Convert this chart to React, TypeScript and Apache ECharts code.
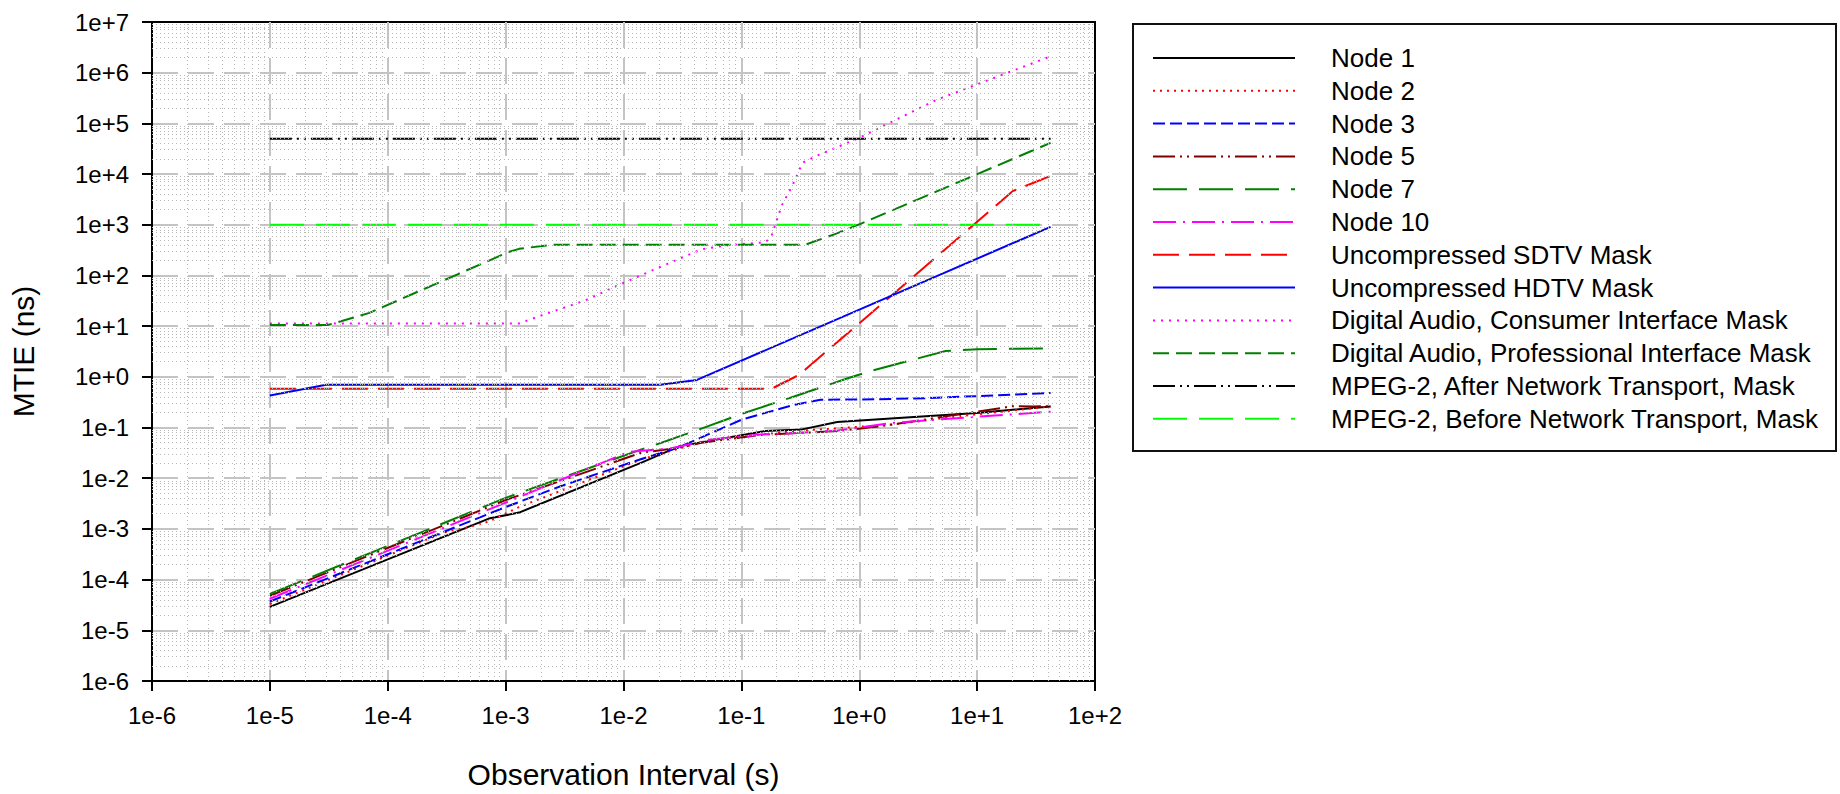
import React, { useEffect, useRef } from 'react';
import * as echarts from 'echarts';

// Tick labels
const xTickLabels = ['1e-6', '1e-5', '1e-4', '1e-3', '1e-2', '1e-1', '1e+0', '1e+1', '1e+2'];
const yTickLabels = ['1e-6', '1e-5', '1e-4', '1e-3', '1e-2', '1e-1', '1e+0', '1e+1', '1e+2', '1e+3', '1e+4', '1e+5', '1e+6', '1e+7'];

// [observation interval (s), MTIE (ns)]
const node1: [number, number][] = [
  [1e-5, 2.9e-5], [7.2e-4, 1.6e-3], [1.3e-3, 2.1e-3], [0.0142, 0.0203], [0.03, 0.043],
  [0.156, 0.085], [0.32, 0.091], [0.65, 0.128], [2.7, 0.16], [9.9, 0.194], [42, 0.26],
];
const node2: [number, number][] = [
  [1e-5, 3.3e-5], [3e-4, 8.5e-4], [4.6e-4, 1.05e-3], [7.2e-4, 1.4e-3], [1.3e-3, 2.7e-3],
  [0.0142, 0.0236], [0.029, 0.038], [0.055, 0.058], [0.28, 0.085], [1.96, 0.115], [7.2, 0.168], [42, 0.26],
];
const node3: [number, number][] = [
  [1e-5, 3.7e-5], [1e-3, 2.7e-3], [3e-3, 7.1e-3], [0.0142, 0.024], [0.029, 0.04], [0.101, 0.144],
  [0.28, 0.28], [0.47, 0.354], [1.4, 0.36], [3.75, 0.38], [13.7, 0.43], [42, 0.48],
];
const node5: [number, number][] = [
  [1e-5, 4.8e-5], [1e-3, 3.7e-3], [0.0142, 0.032], [0.03, 0.04], [0.046, 0.05], [0.15, 0.072],
  [0.65, 0.085], [1.5, 0.106], [7.2, 0.183], [20, 0.263], [30, 0.26], [42, 0.265],
];
const node7: [number, number][] = [
  [1e-5, 5.2e-5], [1e-3, 4.1e-3], [0.0142, 0.037], [0.021, 0.05], [0.04, 0.085], [0.106, 0.194],
  [0.28, 0.41], [0.8, 0.94], [1.29, 1.33], [5.4, 3.24], [10, 3.5], [42, 3.66],
];
const node10: [number, number][] = [
  [1e-5, 4.2e-5], [1e-3, 3.3e-3], [0.011, 0.033], [0.0255, 0.039], [0.055, 0.058], [0.147, 0.073],
  [0.32, 0.079], [0.65, 0.087], [1.96, 0.124], [7.2, 0.155], [42, 0.205],
];
const sdtvMask: [number, number][] = [
  [1e-5, 0.58], [0.18, 0.58], [0.31, 1.1], [1, 11.4], [10, 1150], [20, 4600], [42, 9200],
];
const hdtvMask: [number, number][] = [
  [1e-5, 0.43], [3e-5, 0.7], [0.0205, 0.7], [0.042, 0.87], [42, 910],
];
const consumerMask: [number, number][] = [
  [1e-5, 11.3], [1.3e-3, 11.3], [2.03e-3, 16.4], [4.7e-3, 32], [9e-3, 64], [0.0167, 120],
  [0.046, 330], [0.08, 400], [0.16, 450], [0.18, 600], [0.22, 2400], [0.27, 5800], [0.33, 16700],
  [0.43, 22600], [1, 52000], [4.5, 2.9e5], [42, 2.1e6],
];
const professionalMask: [number, number][] = [
  [1e-5, 10.5], [3.1e-5, 10.5], [7e-5, 18.3], [1.06e-3, 290], [1.3e-3, 335], [2.5e-3, 405],
  [0.35, 405], [0.63, 660], [1.06, 1080], [42, 41300],
];
const mpegAfterMask: [number, number][] = [[1e-5, 5e4], [42, 5e4]];
const mpegBeforeMask: [number, number][] = [[1e-5, 1000], [42, 1000]];

const seriesNames = [
  'Node 1', 'Node 2', 'Node 3', 'Node 5', 'Node 7', 'Node 10',
  'Uncompressed SDTV Mask', 'Uncompressed HDTV Mask',
  'Digital Audio, Consumer Interface Mask', 'Digital Audio, Professional Interface Mask',
  'MPEG-2, After Network Transport, Mask', 'MPEG-2, Before Network Transport, Mask',
];
const seriesData = [node1, node2, node3, node5, node7, node10, sdtvMask, hdtvMask, consumerMask, professionalMask, mpegAfterMask, mpegBeforeMask];
const seriesColors = ['#000000', '#ff0000', '#0000ff', '#800000', '#008000', '#ff00ff', '#ff0000', '#0000ff', '#ff00ff', '#008000', '#000000', '#00ff00'];
const seriesDash: (string | number[])[] = [
  'solid', [2, 5], [12, 5], [22, 5, 2, 5, 2, 5], [34, 12], [23, 7, 2, 7],
  [26, 10], 'solid', [2, 6], [16, 7], [22, 5, 2, 5, 2, 5], [34, 12],
];

const FONT = '"Liberation Sans", Arial, Helvetica, sans-serif';

export default function App() {
  const ref = useRef<HTMLDivElement>(null);
  useEffect(() => {
    const chart = echarts.init(ref.current!, null, { renderer: 'svg' });
    const xMin = -6, xMax = 2, yMin = -6, yMax = 7;
    const minorX: number[] = [];
    for (let e = xMin; e < xMax; e++) for (let k = 2; k <= 9; k++) minorX.push(e + Math.log10(k));
    const minorY: number[] = [];
    for (let e = yMin; e < yMax; e++) for (let k = 2; k <= 9; k++) minorY.push(e + Math.log10(k));

    const series: any[] = [
      {
        name: '__grid',
        type: 'line',
        data: [],
        silent: true,
        z: 1,
        markLine: {
          silent: true,
          symbol: ['none', 'none'],
          label: { show: false },
          animation: false,
          lineStyle: { color: '#b8b8b8', width: 1, type: [1, 3] },
          emphasis: { disabled: true },
          data: [
            ...minorX.map((v) => ({ xAxis: v })),
            ...minorY.map((v) => ({ yAxis: v })),
          ],
        },
      },
    ];
    seriesNames.forEach((name, i) => {
      series.push({
        name,
        type: 'line',
        data: seriesData[i].map(([x, y]) => [Math.log10(x), Math.log10(y)]),
        symbol: 'none',
        smooth: false,
        z: 3,
        color: seriesColors[i],
        lineStyle: { color: seriesColors[i], width: 2, type: seriesDash[i] },
        emphasis: { disabled: true },
      });
    });

    const axisCommon = {
      axisLine: { show: true, onZero: false, lineStyle: { color: '#000', width: 2 } },
      axisTick: { show: true, inside: false, length: 10, lineStyle: { color: '#000', width: 2 } },
      splitLine: {
        show: true, showMinLine: false, showMaxLine: false,
        lineStyle: { color: '#c4c4c4', width: 2, type: [26, 10] },
      },
    };

    const option: any = {
      animation: false,
      backgroundColor: '#ffffff',
      grid: {
        left: 148, top: 22, width: 947, height: 663,
        show: true, borderColor: '#000', borderWidth: 2, backgroundColor: 'transparent',
      },
      xAxis: {
        type: 'value', min: xMin, max: xMax, interval: 1,
        name: 'Observation Interval (s)', nameLocation: 'middle', nameGap: 78,
        nameTextStyle: { fontSize: 30, color: '#000', fontFamily: FONT },
        ...axisCommon,
        axisLabel: {
          margin: 22, fontSize: 24, color: '#000', fontFamily: FONT,
          formatter: (v: number) => xTickLabels[Math.round(v) - xMin],
        },
      },
      yAxis: {
        type: 'value', min: yMin, max: yMax, interval: 1,
        name: 'MTIE (ns)', nameLocation: 'middle', nameGap: 114,
        nameTextStyle: { fontSize: 30, color: '#000', fontFamily: FONT },
        ...axisCommon,
        axisLabel: {
          margin: 23, fontSize: 24, color: '#000', fontFamily: FONT,
          formatter: (v: number) => yTickLabels[Math.round(v) - yMin],
        },
      },
      legend: {
        data: seriesNames,
        orient: 'vertical',
        left: 1152,
        top: 43,
        padding: 0,
        itemWidth: 142,
        itemHeight: 14,
        itemGap: 2.8,
        selectedMode: false,
        itemStyle: { opacity: 0, borderWidth: 0 },
        textStyle: { fontSize: 26, color: '#000', fontFamily: FONT, lineHeight: 30, padding: [0, 0, 0, 31] },
      },
      graphic: [
        {
          type: 'rect',
          silent: true,
          shape: { x: 1133, y: 24, width: 703, height: 427 },
          style: { fill: 'transparent', stroke: '#111', lineWidth: 2 },
        },
      ],
      series,
    };
    chart.setOption(option);
    return () => chart.dispose();
  }, []);
  return (
    <div
      ref={ref}
      style={{ position: 'fixed', left: 0, top: 0, width: 1840, height: 794, background: '#fff' }}
    />
  );
}
